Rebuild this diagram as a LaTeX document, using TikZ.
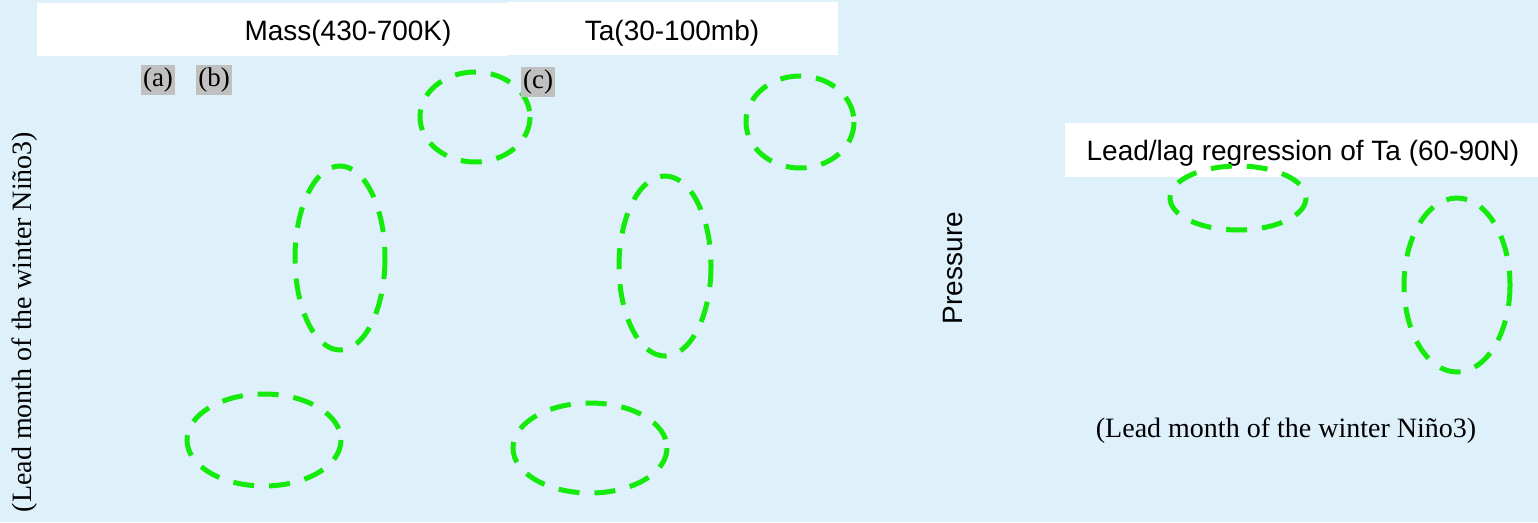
\documentclass[tikz,border=0pt]{standalone}
\usepackage{fontspec}
\setmainfont{Liberation Serif}
\setsansfont{Liberation Sans}
\definecolor{bgblue}{RGB}{222,240,250}
\definecolor{ringgreen}{RGB}{20,235,10}
\definecolor{taggray}{RGB}{192,192,192}
\tikzset{
  ring/.style={draw=ringgreen, line width=5pt, dash pattern=on 21pt off 15pt},
  titletext/.style={font=\sffamily\fontsize{28}{31}\selectfont, inner sep=0pt},
  tag/.style={fill=taggray, font=\fontsize{27}{29}\selectfont, inner xsep=2.5pt, inner ysep=1pt, minimum height=30pt},
  axtext/.style={font=\fontsize{28}{31}\selectfont, inner sep=0pt},
}
\begin{document}
\begin{tikzpicture}[x=1pt,y=-1pt]
\useasboundingbox (0,0) rectangle (1538,522);
\fill[bgblue] (0,0) rectangle (1538,522);
% white title boxes
\fill[white] (37,3) rectangle (507,56);
\fill[white] (507,2) rectangle (838,55);
\fill[white] (1065,123) rectangle (1538,177);
\node[titletext] (mass) at (348,33) {Mass(430-700K)};
\node[titletext] (ta) at (672,33) {Ta(30-100mb)};
\node[titletext] (reg) at (1303,153) {Lead/lag regression of Ta (60-90N)};
% axis texts
\node[axtext, rotate=90] (lead1) at (25,322) {(Lead month of the winter Niño3)};
\node[axtext] (lead2) at (1286,431) {(Lead month of the winter Niño3)};
\node[titletext, rotate=90] (press) at (953,268) {Pressure};
% ellipses
\draw[ring] (475,117) ellipse [x radius=55, y radius=45];
\draw[ring] (340,258) ellipse [x radius=45, y radius=92];
\draw[ring] (264,440) ellipse [x radius=77, y radius=46];
\draw[ring] (800,122) ellipse [x radius=54, y radius=46];
\draw[ring] (665,266) ellipse [x radius=46, y radius=90];
\draw[ring] (590,448) ellipse [x radius=77, y radius=45];
\draw[ring] (1238,198) ellipse [x radius=68, y radius=32];
\draw[ring] (1457,285) ellipse [x radius=53, y radius=87];
% tags
\node[tag] (a) at (158,80) {(a)};
\node[tag] (b) at (214,80) {(b)};
\node[tag] (c) at (538,82) {(c)};
\end{tikzpicture}
\end{document}
